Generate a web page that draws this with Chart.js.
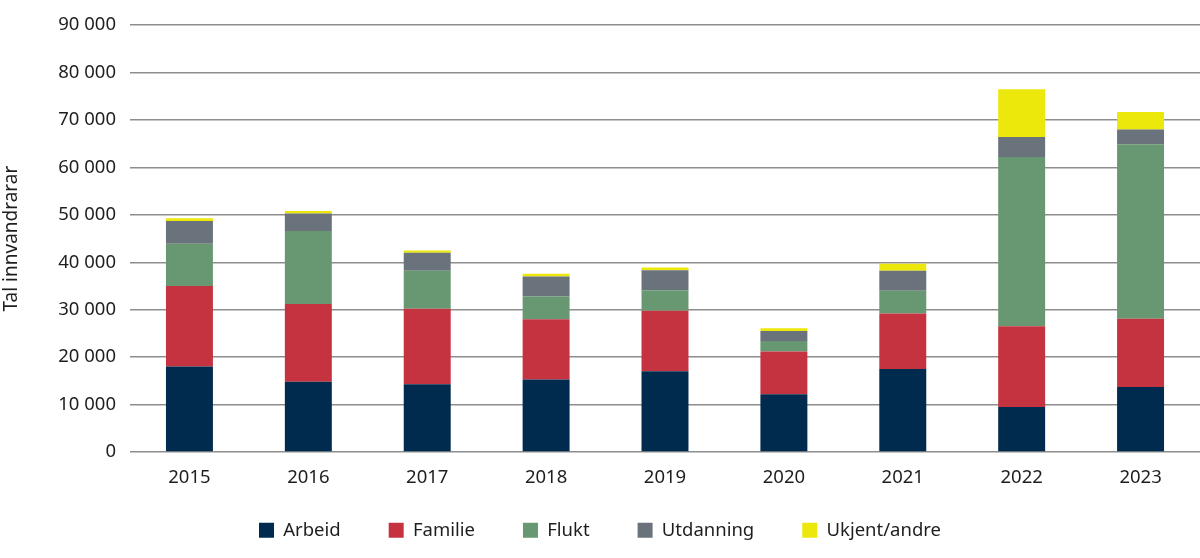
<!DOCTYPE html>
<html>
<head>
<meta charset="utf-8">
<script src="https://cdn.jsdelivr.net/npm/chart.js@4"></script>
<style>
  html, body { margin: 0; padding: 0; background: #fff; }
  #wrap { width: 1200px; height: 558px; position: relative; }
</style>
</head>
<body>
<div id="wrap"><canvas id="chart"></canvas></div>
<script>
// ----- data -----
const years = ['2015', '2016', '2017', '2018', '2019', '2020', '2021', '2022', '2023'];
const arbeid    = [18000, 14800, 14300, 15300, 17000, 12200, 17500,  9500, 13700];
const familie   = [17000, 16400, 15900, 12700, 12800,  9000, 11700, 17000, 14400];
const flukt     = [ 8900, 15400,  8000,  4800,  4300,  2200,  4800, 35700, 36800];
const utdanning = [ 4800,  3700,  3800,  4200,  4200,  2100,  4200,  4200,  3100];
const ukjent    = [  600,   500,   500,   600,   600,   600,  1500, 10100,  3700];
const yTicks = [0, 10000, 20000, 30000, 40000, 50000, 60000, 70000, 80000, 90000];

const FONT = 'Noto Sans';
const TEXT = '#1e1e1e';

function fmt(v) {
  // thousands with a space, e.g. 90 000
  return String(v).replace(/\B(?=(\d{3})+(?!\d))/g, ' ');
}

// legend padding is used both across and down; pin the legend height and
// nudge it up so the wide gaps between items don't push the plot around
const LEGEND_H = 72;
const LEGEND_SHIFT = 13;
const legendFit = {
  id: 'legendFit',
  beforeLayout(chart) {
    const lg = chart.legend;
    if (lg && !lg._pinned) {
      const orig = lg.fit.bind(lg);
      lg.fit = function () { orig(); this.height = LEGEND_H; };
      lg._pinned = true;
    }
  },
  afterLayout(chart) {
    const lg = chart.legend;
    if (lg) { lg.top -= LEGEND_SHIFT; lg.bottom -= LEGEND_SHIFT; }
  }
};

const ctx = document.getElementById('chart').getContext('2d');
new Chart(ctx, {
  type: 'bar',
  data: {
    labels: years,
    datasets: [
      { label: 'Arbeid', data: arbeid, backgroundColor: '#002b4e' },
      { label: 'Familie', data: familie, backgroundColor: '#c53340' },
      { label: 'Flukt', data: flukt, backgroundColor: '#689872' },
      { label: 'Utdanning', data: utdanning, backgroundColor: '#6a737b' },
      { label: 'Ukjent/andre', data: ukjent, backgroundColor: '#ede80b' }
    ]
  },
  plugins: [legendFit],
  options: {
    responsive: true,
    maintainAspectRatio: false,
    animation: false,
    layout: { padding: { top: 25, right: 0, bottom: 0, left: 0 } },
    datasets: { bar: { categoryPercentage: 1, barPercentage: 0.395 } },
    plugins: {
      tooltip: { enabled: false },
      legend: {
        position: 'bottom',
        labels: {
          font: { family: FONT, size: 18.5 },
          color: TEXT,
          boxWidth: 15,
          boxHeight: 15,
          padding: 48
        }
      }
    },
    scales: {
      x: {
        stacked: true,
        grid: { display: false },
        border: { display: false },
        ticks: { font: { family: FONT, size: 18.5 }, color: TEXT, padding: 7 },
        afterFit: s => { s.height = 34; }
      },
      y: {
        stacked: true,
        min: 0,
        max: 90000,
        afterBuildTicks: s => { s.ticks = yTicks.map(v => ({ value: v })); },
        grid: { color: '#8e8e8e', lineWidth: 1.5, drawTicks: false },
        border: { display: false },
        ticks: {
          font: { family: FONT, size: 18.5 },
          color: TEXT,
          padding: 14,
          callback: v => fmt(v)
        },
        title: {
          display: true,
          text: 'Tal innvandrarar',
          font: { family: FONT, size: 19 },
          color: TEXT,
          padding: { top: 0, bottom: 10 }
        },
        afterFit: s => { s.width = 130; }
      }
    }
  }
});
</script>
</body>
</html>
